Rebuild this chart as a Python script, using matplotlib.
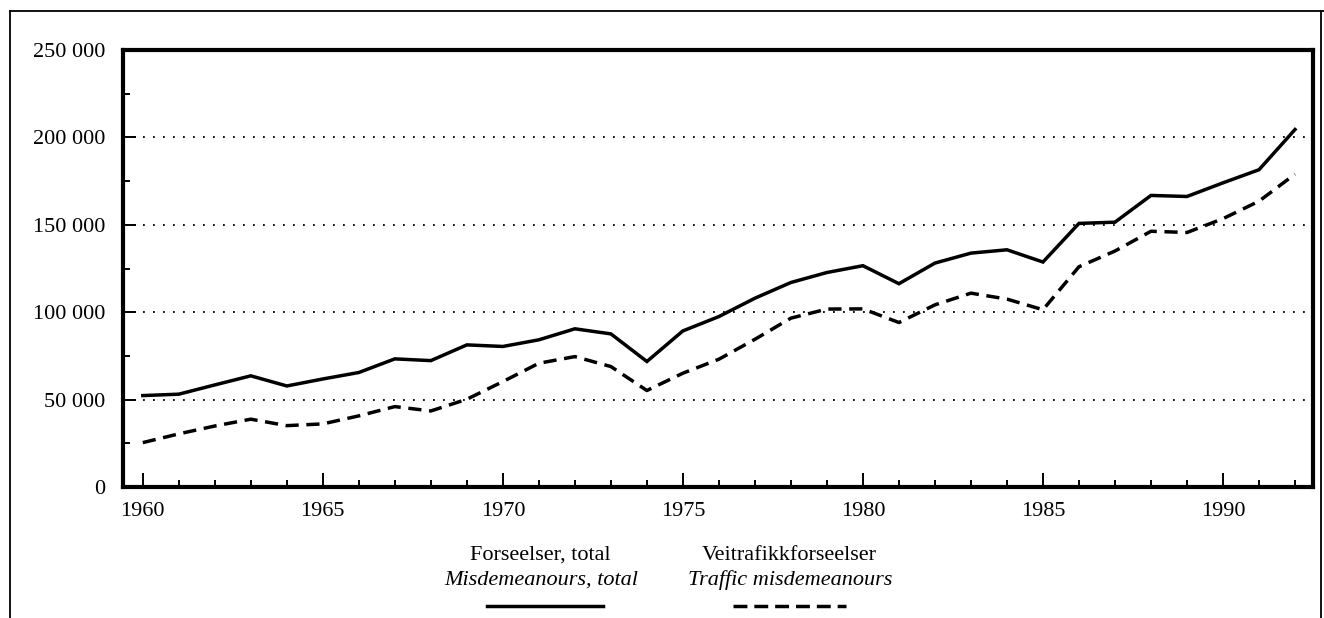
import matplotlib
matplotlib.use('Agg')
import matplotlib.pyplot as plt
from matplotlib.lines import Line2D
from matplotlib.ticker import MultipleLocator, FuncFormatter

# Misdemeanours, 1960-1992
years = list(range(1960, 1993))
total = [52300, 53100, 58400, 63600, 57800, 61800, 65500, 73300, 72300, 81300,
         80400, 84200, 90500, 87600, 71800, 89300, 97500, 108000, 117000, 122700,
         126600, 116300, 128100, 133800, 135700, 128700, 150800, 151500, 166800,
         166200, 174000, 181500, 204500]
traffic = [25400, 30400, 34900, 38800, 35100, 36100, 40700, 46000, 43500, 50200,
           60300, 70800, 74600, 68900, 55200, 65100, 73100, 84500, 96600, 101800,
           101900, 94100, 104200, 110900, 107500, 101400, 126000, 135000, 146300,
           145600, 153500, 163500, 179000]

label_total = ['Forseelser, total', 'Misdemeanours, total']
label_traffic = ['Veitrafikkforseelser', 'Traffic misdemeanours']

plt.rcParams['font.family'] = ['Liberation Serif', 'DejaVu Serif']
plt.rcParams['lines.scale_dashes'] = False

W, H = 1324, 618
fig = plt.figure(figsize=(W / 100, H / 100), dpi=100)
ax = fig.add_axes([123 / W, 1 - 487 / H, (1313 - 123) / W, (487 - 50) / H])

# dotted grid
for v in [50000, 100000, 150000, 200000]:
    ax.axhline(v, color='black', lw=1.3, linestyle=(0, (1.3, 5.9)), zorder=1)

ax.plot(years, total, color='black', lw=2.5, solid_joinstyle='miter', zorder=3)
ax.plot(years, traffic, color='black', lw=2.5, dashes=(9.5, 5.5), zorder=3)

ax.set_xlim(1959.45, 1992.5)
ax.set_ylim(0, 250000)

for s in ax.spines.values():
    s.set_linewidth(3)

ax.xaxis.set_major_locator(MultipleLocator(5))
ax.xaxis.set_minor_locator(MultipleLocator(1))
ax.yaxis.set_major_locator(MultipleLocator(50000))
ax.yaxis.set_minor_locator(MultipleLocator(25000))
ax.yaxis.set_major_formatter(FuncFormatter(lambda v, p: f'{int(v):,}'.replace(',', ' ')))

ax.tick_params(axis='x', which='major', direction='in', length=10, width=1.4,
               labelsize=16, pad=11)
ax.tick_params(axis='x', which='minor', direction='in', length=5, width=1.4)
ax.tick_params(axis='y', which='major', direction='in', length=9, width=1.4,
               labelsize=16, pad=13)
ax.tick_params(axis='y', which='minor', direction='in', length=5, width=1.4)

# legend drawn by hand below the axes
fig.text(540 / W, 1 - 555 / H, label_total[0], ha='center', va='center', fontsize=16)
fig.text(541 / W, 1 - 580 / H, label_total[1], ha='center', va='center', fontsize=16,
         style='italic')
fig.text(789 / W, 1 - 555 / H, label_traffic[0], ha='center', va='center', fontsize=16)
fig.text(790 / W, 1 - 580 / H, label_traffic[1], ha='center', va='center', fontsize=16,
         style='italic')
fig.add_artist(Line2D([487 / W, 603 / W], [1 - 606 / H] * 2, color='black', lw=2.5,
                      transform=fig.transFigure))
fig.add_artist(Line2D([733 / W, 846 / W], [1 - 606 / H] * 2, color='black', lw=2.5,
                      dashes=(10, 5), transform=fig.transFigure))

# outer frame
fx0, fx1, fy = 9.5 / W, 1321 / W, 1 - 11 / H
fig.add_artist(Line2D([fx0, fx0], [0, fy], color='black', lw=1.3, transform=fig.transFigure))
fig.add_artist(Line2D([fx0, 1], [fy, fy], color='black', lw=1.3, transform=fig.transFigure))
fig.add_artist(Line2D([fx1, fx1], [0, fy], color='black', lw=1.3, transform=fig.transFigure))

fig.savefig('out.png', dpi=100)
